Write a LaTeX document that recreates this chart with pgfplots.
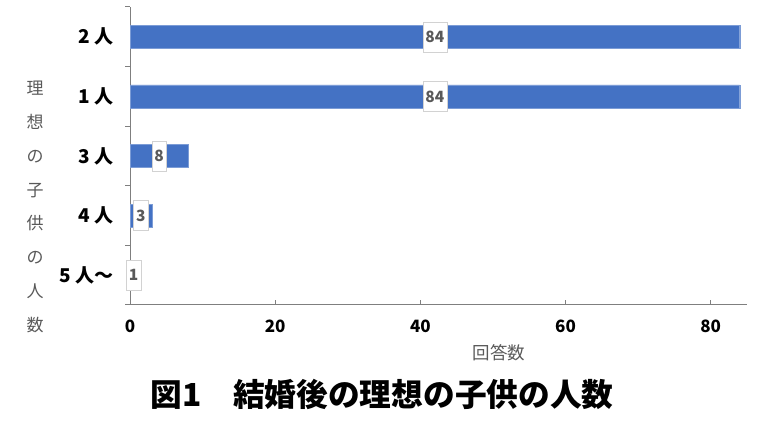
\documentclass[border=0pt]{standalone}
\usepackage{pgfplots}
\pgfplotsset{compat=1.18}
\usepackage{fontspec}
\setmainfont{Noto Sans CJK JP}
\definecolor{barblue}{HTML}{4472C4}
\definecolor{axisgray}{HTML}{7F7F7F}
\definecolor{labgray}{HTML}{595959}
\begin{document}
\begin{tikzpicture}
\useasboundingbox (0,0) rectangle (768pt,433pt);
\begin{axis}[
  at={(130pt,128pt)}, anchor=south west,
  scale only axis, width=617pt, height=298pt,
  xmin=0, xmax=85, ymin=-0.5, ymax=4.5,
  axis x line*=bottom, axis y line*=left,
  axis line style={-, draw=axisgray, line width=1pt},
  xtick={0,20,40,60,80},
  ytick={-0.5,0.5,1.5,2.5,3.5,4.5},
  yticklabels={},
  extra y ticks={0,1,2,3,4},
  extra y tick labels={5 人～,4 人,3 人,1 人,2 人},
  extra y tick style={major tick length=0pt},
  major tick length=5pt,
  xtick align=inside,
  ytick align=outside,
  tick style={draw=axisgray, line width=1pt},
  /pgf/number format/assume math mode=true,
  xticklabel style={font=\bfseries\fontsize{17}{19}\selectfont, text=black, yshift=-11pt},
  yticklabel style={font=\bfseries\fontsize{19}{21}\selectfont, text=black, xshift=-13pt},
  clip=false,
]
\addplot[xbar, bar width=23pt, fill=barblue, draw=barblue!70!white]
  coordinates {(84,4) (84,3) (8,2) (3,1) (1,0)};
\addplot[only marks, mark=none, point meta=explicit symbolic,
  nodes near coords,
  every node near coord/.style={anchor=center, fill=white, draw=gray!35,
    text=labgray, font=\bfseries\fontsize{15.5}{17}\selectfont,
    inner xsep=2.5pt, inner ysep=0pt, minimum height=30pt}]
  coordinates {(42,4) [84] (42,3) [84] (4,2) [8] (1.5,1) [3] (0.5,0) [1]};
\end{axis}
\node[align=center, text=labgray, font=\fontsize{17}{33.9}\selectfont] at (35pt,226pt)
  {理\\想\\の\\子\\供\\の\\人\\数};
\node[text=labgray, font=\fontsize{17.5}{20}\selectfont] at (499pt,80pt) {回答数};
\node[text=black, font=\bfseries\fontsize{31.7}{35}\selectfont] at (382pt,39pt) {図1　結婚後の理想の子供の人数};
\end{tikzpicture}
\end{document}
